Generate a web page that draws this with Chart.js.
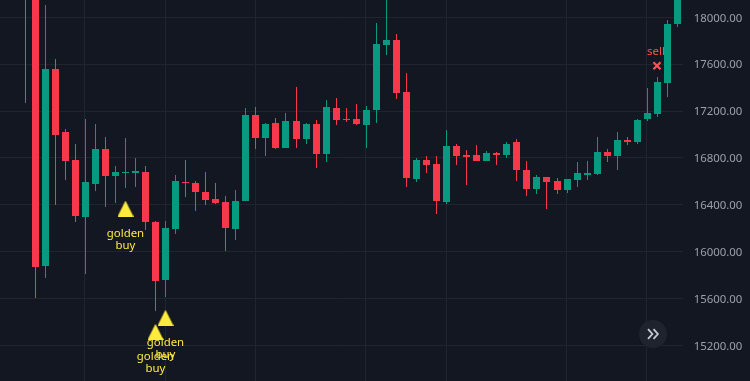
<!DOCTYPE html>
<html>
<head>
<meta charset="utf-8">
<style>html,body{margin:0;padding:0;background:#131722;overflow:hidden}canvas{display:block}</style>
<script src="https://cdn.jsdelivr.net/npm/chart.js@4"></script>
</head>
<body>
<canvas id="c" width="750" height="381"></canvas>
<script>
const opens  = [18420,18600,15879,17560,17023,16784,16297,16579,16877,16647,16673,16673,16681,16254,15759,16194,16596,16587,16510,16451,16425,16194,16434,17168,16971,17099,16886,17116,16963,17091,16835,17227,17134,17134,17082,17210,17765,17808,17364,16621,16784,16749,16425,16903,16826,16826,16775,16843,16826,16937,16698,16536,16638,16604,16527,16613,16656,16664,16852,16818,16954,16937,17134,17176,17441,17945];
const highs  = [18500,18700,18107,17646,17048,16920,17134,17091,16980,16732,16971,16801,16732,16263,16263,16656,16784,16604,16681,16587,16476,16527,17227,17236,17099,17142,17185,17407,17099,17125,17296,17313,17227,17262,17244,17953,18200,17859,17526,16801,16818,16818,17040,16920,16869,16912,16860,16852,16937,16963,16775,16656,16638,16630,16621,16766,16775,16980,16877,17023,16980,17134,17398,17492,17979,18300];
const lows   = [17270,15606,15776,16399,16613,16254,15810,16519,16382,16416,16545,16553,16186,15495,15614,16152,16468,16348,16399,16408,16007,16101,16434,16877,16818,16877,16886,16886,16920,16715,16766,17082,17108,17082,16886,17099,17680,17304,16553,16596,16673,16323,16408,16741,16570,16775,16775,16741,16801,16604,16476,16493,16365,16493,16502,16553,16613,16656,16766,16698,16912,16920,17116,17151,17321,17919];
const closes = [18260,15870,17560,16997,16775,16306,16596,16877,16647,16681,16681,16690,16254,15751,16203,16604,16587,16510,16442,16416,16203,16434,17168,16971,17091,16886,17116,16963,17091,16835,17236,17125,17125,17091,17210,17774,17808,17355,16630,16784,16741,16434,16903,16818,16809,16775,16843,16826,16920,16698,16536,16638,16596,16527,16621,16673,16673,16852,16818,16954,16937,17125,17185,17449,17945,18200];
const priceTicks = [15200,15600,16000,16400,16800,17200,17600,18000];
const gridIndexes = [6,14,23,34,42,54,62];
const buyIndexes = [10,14,13];
const buyPrices = [16367,15435,15315];
const buyLabels = ['golden','buy'];
const sellIndexes = [63];
const sellPrices = [17586];
const sellLabel = 'sell';

const UP = '#089981', DOWN = '#F7374A', YELLOW = '#FFEB3B', SELL = '#FF5252';
const GRID = '#20242E', TEXT = '#9CA0A8', FONT = '"Noto Sans"', TEXT_SIZE = 11.4;

const colorFor = i => closes[i] >= opens[i] ? UP : DOWN;
const bodies = opens.map((o,i)=>({x:i,y:[o,closes[i]]}));
const wicks  = lows.map((l,i)=>({x:i,y:[l,highs[i]]}));

const tri = document.createElement('canvas');
tri.width = 16; tri.height = 16;
const tc = tri.getContext('2d');
tc.fillStyle = YELLOW;
tc.beginPath(); tc.moveTo(8,0); tc.lineTo(16,16); tc.lineTo(0,16); tc.closePath(); tc.fill();

const snap = {
  id:'snap',
  afterDatasetsUpdate(chart){
    chart.getSortedVisibleDatasetMetas().forEach(meta=>{
      const half = meta.type==='bar' || meta.index===0;
      meta.data.forEach(el=>{
        el.x = Math.round(el.x)+(half?0.5:0);
        if(meta.type==='bar'){ el.y = Math.round(el.y); el.base = Math.round(el.base); }
      });
    });
  }
};
const labels = {
  id:'labels',
  afterDatasetsDraw(chart){
    const {ctx,scales:{x,y}} = chart;
    ctx.save();
    ctx.font = TEXT_SIZE+'px '+FONT;
    ctx.textAlign = 'center';
    ctx.textBaseline = 'middle';
    ctx.fillStyle = YELLOW;
    buyIndexes.forEach((ix,k)=>{
      const px = Math.round(x.getPixelForValue(ix))+0.5, py = y.getPixelForValue(buyPrices[k]);
      buyLabels.forEach((t,l)=>ctx.fillText(t,px,py+25+l*12));
    });
    ctx.fillStyle = SELL;
    sellIndexes.forEach((ix,k)=>{
      ctx.fillText(sellLabel,Math.round(x.getPixelForValue(ix))-1,y.getPixelForValue(sellPrices[k])-14.5);
    });
    ctx.restore();
  },
  afterDraw(chart){
    const ctx = chart.ctx, cx = 653, cy = 334;
    ctx.save();
    ctx.fillStyle = '#1F232D';
    ctx.beginPath(); ctx.arc(cx,cy,14,0,Math.PI*2); ctx.fill();
    ctx.strokeStyle = '#C9CBD1'; ctx.lineWidth = 1.8;
    [-5,0.5].forEach(d=>{
      ctx.beginPath();
      ctx.moveTo(cx+d,cy-4.8); ctx.lineTo(cx+d+4.4,cy); ctx.lineTo(cx+d,cy+4.8);
      ctx.stroke();
    });
    ctx.restore();
  }
};

new Chart(document.getElementById('c'),{
  type:'bar',
  data:{datasets:[
    {type:'scatter',data:buyIndexes.map((v,i)=>({x:v,y:buyPrices[i]})),pointStyle:tri,pointRadius:8,showLine:false,order:0},
    {type:'scatter',data:sellIndexes.map((v,i)=>({x:v,y:sellPrices[i]})),pointStyle:'crossRot',pointRadius:5,pointBorderWidth:2.2,pointBorderColor:SELL,showLine:false,order:0},
    {data:bodies,barThickness:7,inflateAmount:0,borderWidth:0,backgroundColor:c=>colorFor(c.dataIndex),grouped:false,order:1},
    {data:wicks,barThickness:1,inflateAmount:0,borderWidth:0,backgroundColor:c=>colorFor(c.dataIndex),grouped:false,order:2}
  ]},
  options:{
    responsive:false,animation:false,
    layout:{padding:0,autoPadding:false},
    plugins:{legend:{display:false},tooltip:{enabled:false}},
    events:[],
    scales:{
      x:{type:'linear',offset:false,min:-2.44122,max:65.6002,
         grid:{color:GRID,lineWidth:1,drawTicks:false,offset:false},
         border:{display:false},
         ticks:{display:false},
         afterBuildTicks:s=>{s.ticks=gridIndexes.map(value=>({value}))}},
      y:{type:'linear',position:'right',min:14895.3,max:18147.7,
         grid:{color:GRID,lineWidth:1,drawTicks:false},
         border:{display:false},
         ticks:{color:TEXT,font:{family:FONT,size:TEXT_SIZE},padding:10.7,autoSkip:false,callback:v=>Number(v).toFixed(2)},
         afterBuildTicks:s=>{s.ticks=priceTicks.map(value=>({value}))},
         afterFit:s=>{
           s.width=67;s.paddingTop=0;s.paddingBottom=0;
           if(!s._shifted){
             s._shifted=true;
             const orig=s.drawLabels;
             s.drawLabels=function(a){const c=this.ctx;c.save();c.translate(0,1);orig.call(this,a);c.restore();};
           }
         }}
    }
  },
  plugins:[snap,labels]
});
</script>
</body>
</html>
